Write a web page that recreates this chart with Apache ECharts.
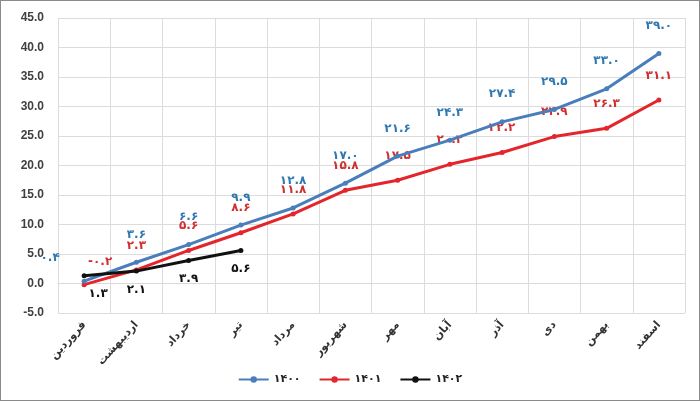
<!DOCTYPE html>
<html><head><meta charset="utf-8">
<script src="https://cdn.jsdelivr.net/npm/echarts@6/dist/echarts.min.js"></script>
<style>
html,body{margin:0;padding:0;background:#fff;}
#c{position:absolute;left:0;top:0;width:698px;height:399px;border:1px solid #8a8a8a;}
</style></head>
<body><div id="c"></div>
<script>
var months = ['فروردین','اردیبهشت','خرداد','تیر','مرداد','شهریور','مهر','آبان','آذر','دی','بهمن','اسفند'];
var s1400 = [0.4, 3.6, 6.6, 9.9, 12.8, 17.0, 21.6, 24.3, 27.4, 29.5, 33.0, 39.0];
var s1401 = [-0.2, 2.3, 5.6, 8.6, 11.8, 15.8, 17.5, 20.2, 22.2, 24.9, 26.3, 31.1];
var s1402 = [1.3, 2.1, 3.9, 5.6];
var seriesNames = ['۱۴۰۰','۱۴۰۱','۱۴۰۲'];
var yTicks = {min:-5, max:45, interval:5};

function fa(v){
  var s = Math.abs(v).toFixed(1);
  var d = '۰۱۲۳۴۵۶۷۸۹';
  s = s.replace(/[0-9]/g, function(c){return d[+c];});
  return (v < 0 ? '-' : '') + s;
}
var faFont = '"DejaVu Sans", sans-serif';
function items(arr, offsets){
  return arr.map(function(v,i){
    var o = {value:v};
    if (offsets && offsets[i]) o.label = {offset: offsets[i]};
    return o;
  });
}
var chart = echarts.init(document.getElementById('c'));
chart.setOption({
  animation:false,
  grid:{left:57, right:14, top:17, bottom:87},
  xAxis:{
    type:'category', data:months, boundaryGap:true,
    axisLine:{show:true, lineStyle:{color:'#d9d9d9'}},
    axisTick:{show:false},
    splitLine:{show:true, lineStyle:{color:'#dcdcdc'}},
    axisLabel:{rotate:48, interval:0, color:'#333', fontWeight:'bold', fontSize:11, fontFamily:faFont, margin:10}
  },
  yAxis:{
    type:'value', min:yTicks.min, max:yTicks.max, interval:yTicks.interval,
    axisLine:{show:false}, axisTick:{show:false},
    splitLine:{lineStyle:{color:'#dcdcdc'}},
    axisLabel:{color:'#404040', fontWeight:'bold', fontSize:12, fontFamily:'"Liberation Sans", Arial, sans-serif',
      formatter:function(v){return v.toFixed(1);}, margin:14}
  },
  legend:{
    bottom:10, left:'center', itemWidth:30, itemHeight:8, itemGap:18,
    textStyle:{fontFamily:faFont, fontWeight:'bold', fontSize:11, color:'#222'},
    data:seriesNames
  },
  series:[
    {name:seriesNames[0], type:'line', data:items(s1400, {0:[-34,4]}),
     color:'#4a7ebb', lineStyle:{width:3}, symbol:'circle', symbolSize:5,
     label:{show:true, position:'top', distance:19, color:'#2f79b3', fontWeight:'bold', fontSize:12, fontFamily:faFont, formatter:function(p){return fa(p.value);}},
     z:3},
    {name:seriesNames[1], type:'line', data:items(s1401, {0:[16,2]}),
     color:'#e3262c', lineStyle:{width:3}, symbol:'circle', symbolSize:5,
     label:{show:true, position:'top', distance:16, color:'#d03030', fontWeight:'bold', fontSize:12, fontFamily:faFont, formatter:function(p){return fa(p.value);}},
     z:2},
    {name:seriesNames[2], type:'line', data:items(s1402, {0:[14,0]}),
     color:'#111111', lineStyle:{width:3}, symbol:'circle', symbolSize:5,
     label:{show:true, position:'bottom', distance:10, color:'#111', fontWeight:'bold', fontSize:12, fontFamily:faFont, formatter:function(p){return fa(p.value);}},
     z:4}
  ]
});
</script></body></html>
